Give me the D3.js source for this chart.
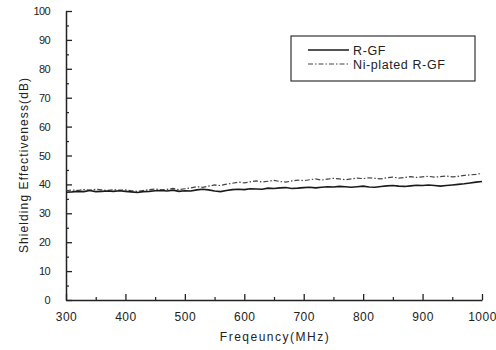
<!DOCTYPE html>
<meta charset="utf-8">
<style>
body { margin: 0; background: #fff; }
.axis path, .axis line { stroke: #222; }
.axis text { font-family: "Liberation Sans", Arial, sans-serif; fill: #222; }
.title { font-family: "Liberation Sans", Arial, sans-serif; font-size: 12px; fill: #222; }
.legend text { font-family: "Liberation Sans", Arial, sans-serif; font-size: 12.5px; fill: #222; letter-spacing: 0.6px; }
</style>
<svg width="496" height="350"></svg>
<script src="https://d3js.org/d3.v7.min.js"></script>
<script>

// frequency points (MHz), 10 MHz step
var freq = d3.range(300, 1001, 10);

var rgf = [37.3, 37.4, 37.6, 37.5, 37.9, 37.5, 37.6, 37.7, 37.6, 37.8,
           37.6, 37.4, 37.2, 37.5, 37.6, 37.8, 37.9, 37.7, 38.0, 37.6,
           37.8, 37.7, 38.1, 38.3, 38.1, 37.7, 37.5, 37.9, 38.2, 38.3,
           38.2, 38.5, 38.4, 38.3, 38.7, 38.6, 38.8, 38.9, 38.6, 38.7,
           38.9, 39.0, 38.8, 39.0, 39.2, 39.1, 39.3, 39.2, 39.0, 39.2,
           39.4, 39.1, 39.0, 39.3, 39.5, 39.6, 39.4, 39.3, 39.5, 39.7,
           39.6, 39.8, 39.6, 39.4, 39.6, 39.8, 40.0, 40.2, 40.5, 40.8, 41.0];

var niRgf = [37.8, 38.1, 37.9, 38.2, 38.0, 38.3, 38.1, 37.9, 38.2, 38.0,
             38.1, 37.8, 37.6, 37.9, 38.2, 38.4, 38.1, 38.3, 38.6, 38.2,
             38.5, 38.8, 39.2, 39.0, 39.4, 39.8, 39.6, 40.1, 40.4, 40.8,
             40.5, 40.9, 41.2, 40.8, 41.1, 41.4, 41.0, 40.8, 41.2, 41.5,
             41.3, 41.6, 41.9, 41.5, 41.8, 42.1, 41.9, 41.6, 41.9, 42.2,
             42.0, 42.3, 42.1, 41.9, 42.3, 42.5, 42.2, 42.4, 42.7, 42.4,
             42.6, 42.8, 42.5, 42.7, 42.9, 42.6, 42.8, 43.1, 43.3, 43.5, 43.8];

var xTicks = [300, 400, 500, 600, 700, 800, 900, 1000];
var yTicks = [0, 10, 20, 30, 40, 50, 60, 70, 80, 90, 100];
var legendLabels = ["R-GF", "Ni-plated R-GF"];

var svg = d3.select("svg");

var x = d3.scaleLinear().domain([300, 1000]).range([66, 482]);
var y = d3.scaleLinear().domain([0, 100]).range([300, 11]);

// minor ticks first
svg.append("g")
    .attr("class", "axis")
    .attr("transform", "translate(0,300)")
    .call(d3.axisBottom(x).tickValues(d3.range(350, 1000, 100)).tickSize(-3).tickFormat(""))
    .call(function(g) { g.select(".domain").remove(); })
    .selectAll("line").attr("stroke-width", 1.2);

svg.append("g")
    .attr("class", "axis")
    .attr("transform", "translate(66,0)")
    .call(d3.axisLeft(y).tickValues(d3.range(5, 100, 10)).tickSize(-3).tickFormat(""))
    .call(function(g) { g.select(".domain").remove(); })
    .selectAll("line").attr("stroke-width", 1.2);

var xAxis = svg.append("g")
    .attr("class", "axis")
    .attr("transform", "translate(0,300)")
    .call(d3.axisBottom(x).tickValues(xTicks).tickFormat(d3.format("d"))
        .tickSize(-6).tickSizeOuter(0).tickPadding(12));
xAxis.select(".domain").attr("stroke-width", 1.5);
xAxis.selectAll("line").attr("stroke-width", 1.3);
xAxis.selectAll("text").attr("font-size", 12).attr("letter-spacing", "0.5px");

var yAxis = svg.append("g")
    .attr("class", "axis")
    .attr("transform", "translate(66,0)")
    .call(d3.axisLeft(y).tickValues(yTicks).tickFormat(d3.format("d"))
        .tickSize(-6).tickSizeOuter(0).tickPadding(16));
yAxis.select(".domain").attr("stroke-width", 1.5);
yAxis.selectAll("line").attr("stroke-width", 1.3);
yAxis.selectAll("text").attr("font-size", 11).attr("letter-spacing", "-0.6px");

svg.append("text")
    .attr("class", "title")
    .attr("x", 275).attr("y", 341)
    .attr("text-anchor", "middle")
    .attr("letter-spacing", "1.5px")
    .text("Freqeuncy(MHz)");

svg.append("text")
    .attr("class", "title")
    .attr("transform", "translate(28,165) rotate(-90)")
    .attr("text-anchor", "middle")
    .attr("letter-spacing", "1.1px")
    .text("Shielding Effectiveness(dB)");

var line = d3.line()
    .x(function(d, i) { return x(freq[i]); })
    .y(function(d) { return y(d); });

svg.append("path")
    .datum(niRgf)
    .attr("fill", "none")
    .attr("stroke", "#444")
    .attr("stroke-width", 1.2)
    .attr("stroke-dasharray", "5,2,1.5,2")
    .attr("d", line);

svg.append("path")
    .datum(rgf)
    .attr("fill", "none")
    .attr("stroke", "#1a1a1a")
    .attr("stroke-width", 1.6)
    .attr("d", line);

// legend
var legend = svg.append("g").attr("class", "legend");
legend.append("rect")
    .attr("x", 291).attr("y", 36)
    .attr("width", 184).attr("height", 45)
    .attr("fill", "#fff")
    .attr("stroke", "#333")
    .attr("stroke-width", 1.2);

var styles = [
  {stroke: "#1a1a1a", width: 1.6, dash: null},
  {stroke: "#444", width: 1.2, dash: "5,2,1.5,2"}
];

legend.selectAll(".item")
    .data(legendLabels)
    .enter().append("g")
    .attr("class", "item")
    .attr("transform", function(d, i) { return "translate(0," + (50 + i * 14) + ")"; })
    .each(function(d, i) {
      var g = d3.select(this);
      g.append("line")
          .attr("x1", 308).attr("x2", 349)
          .attr("stroke", styles[i].stroke)
          .attr("stroke-width", styles[i].width)
          .attr("stroke-dasharray", styles[i].dash);
      g.append("text")
          .attr("x", 353).attr("y", 4.5)
          .text(d);
    });

</script>
